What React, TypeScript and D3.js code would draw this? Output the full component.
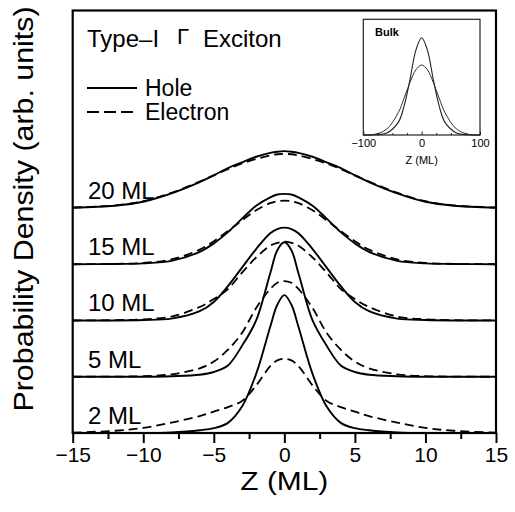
import { useEffect, useRef } from "react";
import * as d3 from "d3";

const zPoints = [-15, -12, -10, -8, -6, -5, -4, -3, -2, -1, -0.5, 0, 0.5, 1, 2, 3, 4, 5, 6, 8, 10, 12, 15];

// probability densities (arb. units), one array per well width
const hole20 = [0.005, 0.04, 0.11, 0.26, 0.46, 0.58, 0.71, 0.81, 0.91, 0.98, 1.0, 1.01, 1.0, 0.98, 0.91, 0.81, 0.71, 0.58, 0.46, 0.26, 0.11, 0.04, 0.005];
const electron20 = [0.008, 0.045, 0.12, 0.27, 0.47, 0.58, 0.69, 0.79, 0.87, 0.935, 0.955, 0.96, 0.955, 0.935, 0.87, 0.79, 0.69, 0.58, 0.47, 0.27, 0.12, 0.045, 0.008];
const hole15 = [0, 0.004, 0.015, 0.06, 0.22, 0.37, 0.57, 0.81, 1.04, 1.19, 1.24, 1.25, 1.24, 1.19, 1.04, 0.81, 0.57, 0.37, 0.22, 0.06, 0.015, 0.004, 0];
const electron15 = [0, 0.006, 0.023, 0.085, 0.26, 0.41, 0.59, 0.78, 0.96, 1.085, 1.12, 1.13, 1.12, 1.085, 0.96, 0.78, 0.59, 0.41, 0.26, 0.085, 0.023, 0.006, 0];
const hole10 = [0, 0, 0.008, 0.033, 0.165, 0.33, 0.61, 0.94, 1.27, 1.55, 1.625, 1.65, 1.625, 1.55, 1.27, 0.94, 0.61, 0.33, 0.165, 0.033, 0.008, 0, 0];
const electron10 = [0, 0.006, 0.021, 0.07, 0.24, 0.38, 0.56, 0.85, 1.12, 1.33, 1.38, 1.4, 1.38, 1.33, 1.12, 0.85, 0.56, 0.38, 0.24, 0.07, 0.021, 0.006, 0];
const hole5 = [0, 0, 0, 0.01, 0.036, 0.084, 0.2, 0.55, 1.0, 1.84, 2.25, 2.39, 2.25, 1.84, 1.0, 0.55, 0.2, 0.084, 0.036, 0.01, 0, 0, 0];
const electron5 = [0, 0.002, 0.01, 0.043, 0.15, 0.27, 0.48, 0.78, 1.22, 1.56, 1.67, 1.7, 1.67, 1.56, 1.22, 0.78, 0.48, 0.27, 0.15, 0.043, 0.01, 0.002, 0];
const hole2 = [0, 0, 0, 0.012, 0.05, 0.086, 0.18, 0.47, 1.05, 1.89, 2.28, 2.45, 2.28, 1.89, 1.05, 0.47, 0.18, 0.086, 0.05, 0.012, 0, 0, 0];
const electron2 = [0.007, 0.04, 0.09, 0.185, 0.3, 0.38, 0.46, 0.57, 0.845, 1.19, 1.29, 1.32, 1.29, 1.19, 0.845, 0.57, 0.46, 0.38, 0.3, 0.185, 0.09, 0.04, 0.007];

const wellLabels = ["20 ML", "15 ML", "10 ML", "5 ML", "2 ML"];
const wellOffsets = [4, 3, 2, 1, 0];
const holeCurves = [hole20, hole15, hole10, hole5, hole2];
const electronCurves = [electron20, electron15, electron10, electron5, electron2];

const xTicks = [-15, -10, -5, 0, 5, 10, 15];
const xMinorTicks = [-12.5, -7.5, -2.5, 2.5, 7.5, 12.5];

// inset: bulk exciton
const bulkZ = [-100, -80, -60, -40, -30, -20, -10, 0, 10, 20, 30, 40, 60, 80, 100];
const bulkHole = [0, 0.002, 0.02, 0.13, 0.3, 0.57, 0.87, 1, 0.87, 0.57, 0.3, 0.13, 0.02, 0.002, 0];
const bulkElectron = [0, 0.008, 0.06, 0.23, 0.38, 0.54, 0.67, 0.72, 0.67, 0.54, 0.38, 0.23, 0.06, 0.008, 0];
const bulkTicks = [-100, 0, 100];
const bulkMinorTicks = [-75, -50, -25, 25, 50, 75];

const FONT = "'Liberation Sans', Arial, Helvetica, sans-serif";

const fmtMinus = (d: d3.NumberValue) => (+d < 0 ? "\u2212" + Math.abs(+d) : String(d));

export default function App() {
	const ref = useRef<SVGSVGElement>(null);

	useEffect(() => {
		const svg = d3.select(ref.current);
		svg.selectAll("*").remove();

		const left = 72.7, right = 496, top = 10.5, bottom = 433;

		const x = d3.scaleLinear().domain([-15, 15]).range([left, right]);
		const y = d3.scaleLinear().domain([0, 7.51]).range([bottom, top]);

		const line = (vals: number[], off: number) =>
			d3.line<number>()
				.x((_, i) => x(zPoints[i]))
				.y(d => y(d + off))
				.curve(d3.curveCatmullRom.alpha(0.5))(vals);

		// curves
		wellOffsets.forEach((off, k) => {
			svg.append("path")
				.attr("d", line(electronCurves[k], off))
				.attr("fill", "none")
				.attr("stroke", "#000")
				.attr("stroke-width", 1.8)
				.attr("stroke-dasharray", "9,5");
			svg.append("path")
				.attr("d", line(holeCurves[k], off))
				.attr("fill", "none")
				.attr("stroke", "#000")
				.attr("stroke-width", 1.9);

			svg.append("text")
				.attr("x", 88)
				.attr("y", y(off) - 9)
				.attr("font-size", 24)
				.attr("font-family", FONT)
				.text(wellLabels[k]);
		});

		// frame
		svg.append("rect")
			.attr("x", left)
			.attr("y", top)
			.attr("width", right - left)
			.attr("height", bottom - top)
			.attr("fill", "none")
			.attr("stroke", "#000")
			.attr("stroke-width", 2.2);

		// x axis
		const ax = svg.append("g").attr("transform", `translate(0,${bottom})`);
		ax.call(d3.axisBottom(x).tickValues(xTicks).tickSize(10).tickPadding(4).tickFormat(fmtMinus));
		ax.append("g").call(d3.axisBottom(x).tickValues(xMinorTicks).tickSize(6).tickFormat(() => ""));
		ax.selectAll(".domain").remove();
		ax.selectAll("line").attr("stroke", "#000").attr("stroke-width", 2);
		ax.selectAll("text")
			.attr("font-size", 21)
			.attr("font-family", FONT)
			.attr("fill", "#000");

		svg.append("text")
			.attr("x", x(0))
			.attr("y", 490)
			.attr("text-anchor", "middle")
			.attr("font-size", 25)
			.attr("font-family", FONT)
			.attr("textLength", 88)
			.attr("lengthAdjust", "spacingAndGlyphs")
			.text("Z (ML)");

		svg.append("text")
			.attr("transform", `translate(33,${209}) rotate(-90)`)
			.attr("text-anchor", "middle")
			.attr("font-size", 27)
			.attr("font-family", FONT)
			.attr("textLength", 405)
			.attr("lengthAdjust", "spacingAndGlyphs")
			.text("Probability Density (arb. units)");

		// title
		const title = svg.append("text")
			.attr("font-family", FONT)
			.attr("font-size", 24);
		title.append("tspan").attr("x", 87).attr("y", 47).text("Type\u2013I");
		title.append("tspan").attr("x", 177).attr("y", 44)
			.attr("font-size", 22)
			.text("\u0393");
		title.append("tspan").attr("x", 203).attr("y", 47).text("Exciton");

		// legend
		svg.append("line")
			.attr("x1", 87).attr("x2", 137).attr("y1", 88).attr("y2", 88)
			.attr("stroke", "#000").attr("stroke-width", 1.8);
		svg.append("line")
			.attr("x1", 87).attr("x2", 137).attr("y1", 112).attr("y2", 112)
			.attr("stroke", "#000").attr("stroke-width", 1.8)
			.attr("stroke-dasharray", "12,5");
		svg.append("text").attr("x", 145).attr("y", 96)
			.attr("font-size", 23).attr("font-family", FONT).text("Hole");
		svg.append("text").attr("x", 145).attr("y", 120)
			.attr("font-size", 23).attr("font-family", FONT).text("Electron");

		// inset
		const ix = d3.scaleLinear().domain([-100, 100]).range([363.3, 480]);
		const iy = d3.scaleLinear().domain([0, 1.19]).range([135, 19.3]);

		svg.append("rect")
			.attr("x", 363.3).attr("y", 19.3)
			.attr("width", 480 - 363.3).attr("height", 135 - 19.3)
			.attr("fill", "#fff")
			.attr("stroke", "#222")
			.attr("stroke-width", 1.2);

		const iline = d3.line<number>()
			.x((_, i) => ix(bulkZ[i]))
			.y(d => iy(d))
			.curve(d3.curveCatmullRom.alpha(0.5));

		svg.append("path").attr("d", iline(bulkElectron))
			.attr("fill", "none").attr("stroke", "#333").attr("stroke-width", 1);
		svg.append("path").attr("d", iline(bulkHole))
			.attr("fill", "none").attr("stroke", "#222").attr("stroke-width", 1.1);

		const iax = svg.append("g").attr("transform", "translate(0,135)");
		iax.call(d3.axisBottom(ix).tickValues(bulkTicks).tickSize(-3.5).tickPadding(4).tickFormat(fmtMinus));
		iax.append("g").call(d3.axisBottom(ix).tickValues(bulkMinorTicks).tickSize(-2).tickFormat(() => ""));
		iax.selectAll(".domain").remove();
		iax.selectAll("line").attr("stroke", "#222");
		iax.selectAll("text")
			.attr("font-size", 11)
			.attr("font-family", FONT)
			.attr("fill", "#000");

		svg.append("text")
			.attr("x", ix(0)).attr("y", 164)
			.attr("text-anchor", "middle")
			.attr("font-size", 11).attr("font-family", FONT)
			.text("Z (ML)");

		svg.append("text")
			.attr("x", 375).attr("y", 36)
			.attr("font-size", 11).attr("font-weight", "bold").attr("font-family", FONT)
			.text("Bulk");
	}, []);

	return (
		<svg
			ref={ref}
			width={515}
			height={512}
			style={{ position: "absolute", left: 0, top: 0, background: "#fff" }}
		></svg>
	);
}
